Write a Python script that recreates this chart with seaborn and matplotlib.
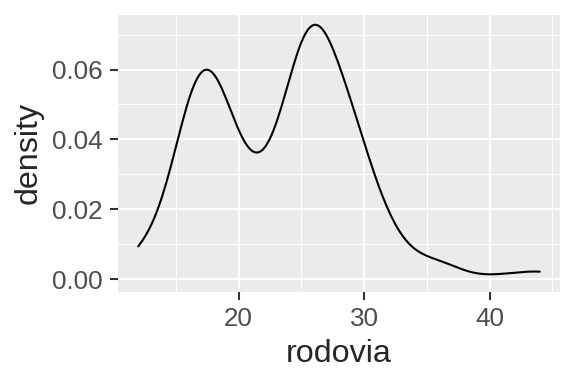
import numpy as np
import pandas as pd
import matplotlib
matplotlib.use('Agg')
import matplotlib.pyplot as plt
import seaborn as sns
from matplotlib.ticker import MultipleLocator, FormatStrFormatter

# highway mileage values and how often each occurs
hwy_values = [12, 14, 15, 16, 17, 18, 19, 20, 21, 22, 23, 24, 25,
              26, 27, 28, 29, 30, 31, 32, 33, 35, 36, 37, 41, 44]
hwy_counts = [5, 2, 10, 7, 31, 10, 13, 11, 2, 7, 7, 13, 15,
              32, 14, 7, 22, 4, 6, 4, 2, 2, 2, 1, 1, 2]

x_ticks = [20, 30, 40]
y_ticks = [0.00, 0.02, 0.04, 0.06]

df = pd.DataFrame({'rodovia': np.repeat(hwy_values, hwy_counts)})

# R's bw.nrd0 expressed as a factor for scipy's gaussian_kde
n = len(df)
sd = df['rodovia'].std()
iqr = df['rodovia'].quantile(0.75) - df['rodovia'].quantile(0.25)
bw_factor = 0.9 * min(sd, iqr / 1.34) * n ** -0.2 / sd

sns.set_style('darkgrid', {'axes.facecolor': '#EBEBEB', 'grid.color': 'white'})
plt.rcParams['font.family'] = ['Liberation Sans', 'DejaVu Sans']

fig = plt.figure(figsize=(3.84, 2.56), dpi=150)
ax = fig.add_axes([0.205, 0.240, 0.767, 0.721])
sns.kdeplot(data=df, x='rodovia', bw_method=bw_factor, cut=0,
            color='black', linewidth=1.0, ax=ax)

ax.set_xlim(10.4, 45.6)
ax.set_ylim(-0.0036, 0.0756)
ax.set_xticks(x_ticks)
ax.set_yticks(y_ticks)
ax.xaxis.set_minor_locator(MultipleLocator(5))
ax.yaxis.set_minor_locator(MultipleLocator(0.01))
ax.yaxis.set_major_formatter(FormatStrFormatter('%.2f'))
ax.grid(which='major', color='white', linewidth=1.0)
ax.grid(which='minor', color='white', linewidth=0.5)
ax.set_axisbelow(True)
for s in ax.spines.values():
    s.set_visible(False)

ax.tick_params(which='major', bottom=True, left=True, length=3.9, width=1.0,
               color='#333333', labelsize=12.5, labelcolor='#4D4D4D', pad=3.5)
ax.tick_params(which='minor', bottom=False, left=False, length=0)
ax.set_xlabel('rodovia', fontsize=15.5, labelpad=3.5)
ax.set_ylabel('density', fontsize=15.5, labelpad=4)

plt.savefig('out.png', dpi=150)
